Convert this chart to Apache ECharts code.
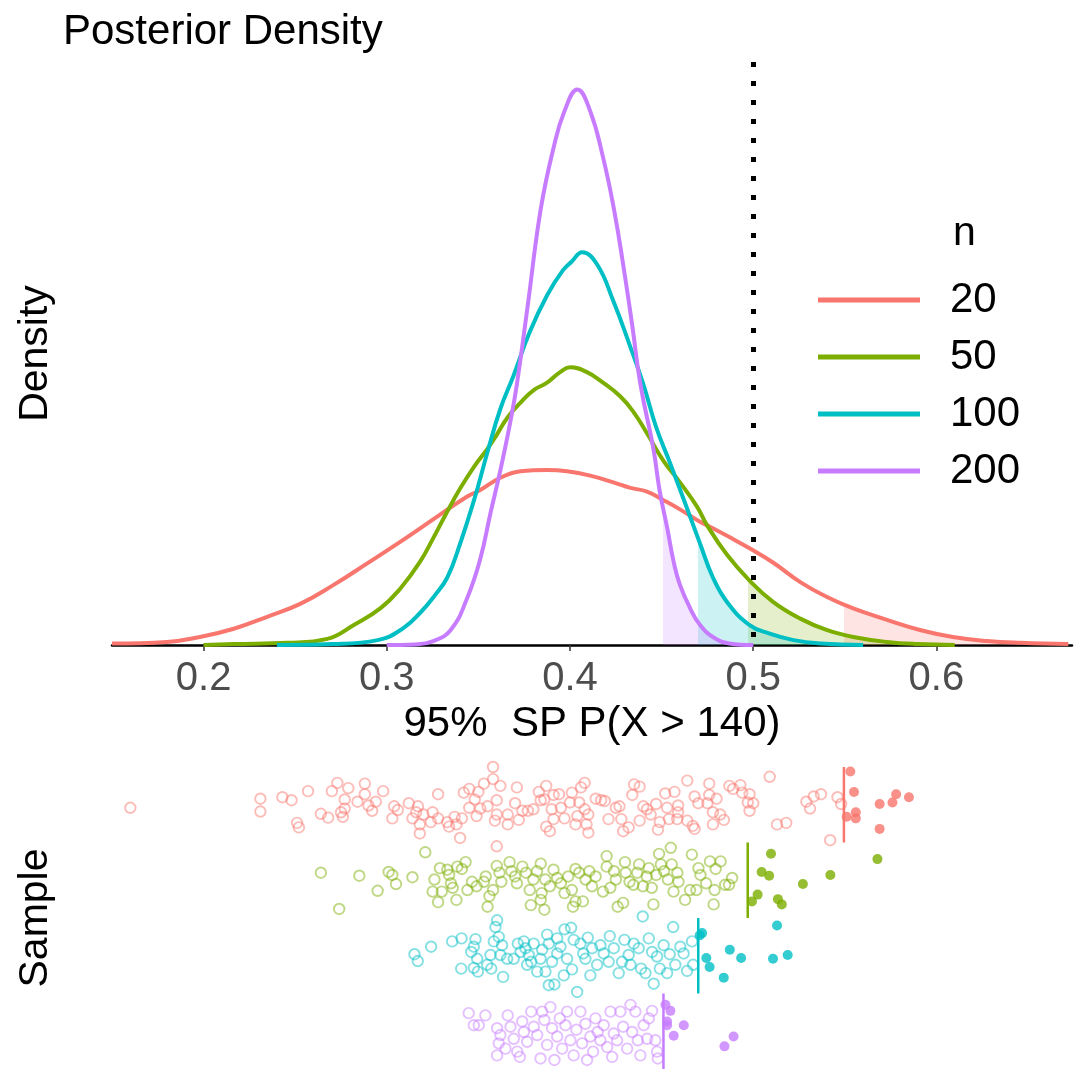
<!DOCTYPE html>
<html><head><meta charset="utf-8">
<script src="https://cdn.jsdelivr.net/npm/echarts@6/dist/echarts.min.js"></script>
<style>html,body{margin:0;padding:0;background:#fff}#c{width:1076px;height:1069px}</style>
</head><body><div id="c"></div><script>
const groups = ['20','50','100','200'];
const colors = ['#F8766D','#7CAE00','#00BFC4','#C77CFF'];
const thresholds = [0.5495, 0.497, 0.470, 0.451];
const tickValues = [0.2,0.3,0.4,0.5,0.6];
const refLine = 0.5;
const rowPos = [4,3,2,1];

const density20 = [[0.150,0.05],[0.180,0.10],[0.198,0.26],[0.2165,0.53],[0.2347,0.92],[0.253,1.35],[0.271,1.96],[0.2893,2.66],[0.3075,3.37],[0.3255,4.10],[0.3439,4.84],[0.351,5.05],[0.362,5.45],[0.373,5.66],[0.3875,5.70],[0.3984,5.66],[0.411,5.52],[0.4237,5.30],[0.433,5.12],[0.442,5.00],[0.451,4.72],[0.460,4.42],[0.4694,4.07],[0.4748,3.90],[0.4875,3.50],[0.498,3.15],[0.511,2.68],[0.5257,2.05],[0.540,1.57],[0.5546,1.19],[0.573,0.82],[0.591,0.49],[0.609,0.26],[0.6276,0.13],[0.646,0.07],[0.672,0.03]];
const density50 = [[0.200,0.0],[0.216,0.03],[0.246,0.07],[0.2675,0.20],[0.282,0.65],[0.2966,1.20],[0.3075,1.85],[0.318,2.70],[0.3255,3.50],[0.333,4.35],[0.340,5.10],[0.3475,5.80],[0.355,6.40],[0.360,6.85],[0.3657,7.40],[0.373,7.90],[0.380,8.30],[0.3875,8.55],[0.3948,8.90],[0.4002,9.05],[0.409,8.90],[0.418,8.55],[0.4275,8.10],[0.4346,7.60],[0.442,6.90],[0.451,6.00],[0.460,5.30],[0.4694,4.50],[0.4748,3.90],[0.4857,2.94],[0.498,2.10],[0.511,1.40],[0.5257,0.86],[0.540,0.49],[0.5546,0.26],[0.573,0.10],[0.590,0.03],[0.610,0.0]];
const density100 = [[0.240,0.0],[0.270,0.03],[0.295,0.16],[0.309,0.55],[0.319,1.10],[0.326,1.60],[0.333,2.20],[0.340,3.30],[0.348,4.80],[0.355,6.30],[0.362,7.70],[0.369,8.75],[0.378,10.20],[0.3875,11.40],[0.396,12.20],[0.401,12.50],[0.4066,12.80],[0.4148,12.40],[0.4237,11.20],[0.433,9.70],[0.440,8.50],[0.447,7.10],[0.4548,5.90],[0.4639,4.45],[0.471,3.30],[0.478,2.20],[0.4857,1.40],[0.498,0.65],[0.509,0.37],[0.522,0.16],[0.537,0.05],[0.560,0.0]];
const density200 = [[0.300,0],[0.315,0.02],[0.325,0.12],[0.335,0.5],[0.344,1.55],[0.351,2.8],[0.3566,4.3],[0.362,5.7],[0.3675,7.3],[0.371,8.5],[0.377,11.1],[0.384,14.2],[0.391,16.2],[0.397,17.4],[0.404,18.1],[0.411,17.4],[0.418,15.9],[0.424,14.2],[0.429,12.4],[0.434,10.4],[0.4384,8.5],[0.4455,6.4],[0.449,5.0],[0.4531,3.8],[0.4566,2.7],[0.460,1.96],[0.4657,1.18],[0.471,0.65],[0.478,0.26],[0.487,0.05],[0.500,0]];

const sample20 = [[0.160,-0.04],[0.231,0.08],[0.231,-0.09],[0.243,0.10],[0.248,0.06],[0.257,0.18],[0.251,-0.24],[0.252,-0.30],[0.264,-0.12],[0.268,-0.17],[0.270,0.18],[0.273,0.29],[0.279,0.22],[0.277,0.07],[0.277,-0.05],[0.275,-0.10],[0.276,-0.16],[0.284,0.04],[0.288,0.28],[0.288,0.14],[0.290,-0.01],[0.292,-0.08],[0.294,0.04],[0.298,0.18],[0.303,-0.18],[0.304,-0.02],[0.306,-0.07],[0.312,0.02],[0.314,-0.18],[0.317,-0.02],[0.316,-0.10],[0.318,-0.26],[0.318,-0.38],[0.320,-0.13],[0.325,-0.10],[0.324,-0.23],[0.328,0.14],[0.328,-0.18],[0.333,-0.23],[0.334,-0.29],[0.337,-0.16],[0.338,-0.26],[0.341,-0.18],[0.340,-0.44],[0.342,0.16],[0.345,0.21],[0.348,0.07],[0.345,-0.04],[0.349,-0.15],[0.350,0.17],[0.351,-0.05],[0.353,0.28],[0.355,-0.02],[0.358,0.50],[0.358,0.34],[0.362,0.25],[0.360,0.06],[0.359,-0.21],[0.360,-0.13],[0.360,-0.55],[0.366,-0.13],[0.366,-0.26],[0.371,0.23],[0.370,0.02],[0.372,-0.20],[0.374,-0.08],[0.377,-0.08],[0.380,-0.06],[0.383,0.17],[0.384,0.06],[0.387,0.25],[0.386,0.07],[0.387,-0.29],[0.389,-0.35],[0.391,0.13],[0.390,-0.06],[0.391,-0.19],[0.394,0.14],[0.395,-0.04],[0.397,-0.18],[0.401,0.16],[0.400,0.03],[0.403,-0.26],[0.404,-0.15],[0.406,0.23],[0.408,0.29],[0.405,0.03],[0.408,-0.06],[0.409,-0.26],[0.410,-0.37],[0.410,-0.13],[0.414,0.08],[0.417,0.06],[0.419,0.05],[0.421,-0.19],[0.425,-0.04],[0.427,-0.02],[0.428,-0.19],[0.429,-0.35],[0.432,-0.30],[0.434,0.13],[0.435,0.27],[0.438,0.24],[0.438,-0.21],[0.440,-0.02],[0.442,-0.06],[0.444,-0.13],[0.447,0.01],[0.448,-0.33],[0.449,-0.23],[0.452,0.15],[0.453,-0.04],[0.454,-0.19],[0.457,0.17],[0.459,-0.01],[0.459,-0.10],[0.4585,-0.19],[0.464,0.32],[0.464,-0.21],[0.467,-0.28],[0.468,-0.32],[0.468,0.11],[0.470,0.02],[0.476,0.28],[0.476,0.13],[0.475,0.02],[0.478,-0.26],[0.478,-0.10],[0.480,0.08],[0.482,-0.13],[0.484,-0.20],[0.487,0.25],[0.489,0.21],[0.493,0.26],[0.494,0.16],[0.498,0.14],[0.497,0.03],[0.500,0.02],[0.498,-0.08],[0.509,0.37],[0.513,-0.26],[0.518,-0.24],[0.529,0.04],[0.531,-0.05],[0.533,0.11],[0.537,0.14],[0.546,0.10],[0.548,0.01],[0.542,-0.47],[0.553,0.44],[0.555,0.17],[0.551,-0.16],[0.556,-0.10],[0.556,-0.18],[0.569,0.01],[0.576,0.03],[0.578,0.14],[0.585,0.10],[0.569,-0.32]];
const sample50 = [[0.264,0.10],[0.274,-0.38],[0.285,0.06],[0.295,-0.14],[0.301,0.11],[0.303,0.07],[0.305,-0.05],[0.314,0.04],[0.321,0.37],[0.325,-0.15],[0.326,0.01],[0.328,-0.29],[0.329,0.16],[0.330,-0.15],[0.333,0.14],[0.334,0.07],[0.335,-0.04],[0.336,-0.10],[0.338,-0.26],[0.3385,0.18],[0.341,0.15],[0.343,0.24],[0.344,-0.13],[0.3465,-0.02],[0.349,-0.08],[0.353,-0.02],[0.354,0.05],[0.355,-0.35],[0.356,-0.21],[0.358,-0.13],[0.360,0.19],[0.3615,0.10],[0.3625,-0.02],[0.367,0.24],[0.368,0.12],[0.370,0.05],[0.371,-0.04],[0.374,0.18],[0.376,0.10],[0.378,-0.13],[0.3786,-0.33],[0.380,0.01],[0.382,0.12],[0.384,0.22],[0.3845,-0.17],[0.384,-0.26],[0.386,-0.39],[0.3865,0.01],[0.389,-0.08],[0.391,0.14],[0.393,0.03],[0.395,-0.04],[0.397,-0.17],[0.399,0.05],[0.401,-0.13],[0.4016,-0.35],[0.403,0.15],[0.403,-0.28],[0.405,0.10],[0.407,-0.28],[0.4085,0.01],[0.4105,0.12],[0.412,-0.08],[0.414,0.05],[0.418,-0.15],[0.420,0.32],[0.420,0.18],[0.422,-0.10],[0.424,0.12],[0.425,0.01],[0.426,-0.35],[0.429,-0.30],[0.430,0.24],[0.4304,0.10],[0.4325,-0.02],[0.4346,-0.06],[0.4367,0.10],[0.4377,0.21],[0.4398,-0.08],[0.4419,0.05],[0.443,0.16],[0.4446,-0.10],[0.4455,-0.32],[0.447,0.07],[0.4486,0.35],[0.4496,0.21],[0.4513,0.12],[0.4534,0.01],[0.455,0.43],[0.4555,0.21],[0.4565,-0.15],[0.4586,0.10],[0.4592,-0.02],[0.4628,-0.26],[0.4655,-0.13],[0.4665,0.34],[0.469,-0.13],[0.4701,0.16],[0.4712,0.07],[0.4743,-0.04],[0.4764,0.25],[0.4784,-0.32],[0.4789,-0.13],[0.4795,0.15],[0.4822,0.25],[0.4847,-0.06],[0.4868,-0.06],[0.4885,0.03],[0.4993,-0.28],[0.5024,-0.19],[0.5046,0.11],[0.5087,0.06],[0.5097,0.35],[0.5135,-0.25],[0.5156,-0.32],[0.5271,-0.05],[0.5421,0.07],[0.5678,0.28]];
const sample100 = [[0.3151,0.02],[0.3169,-0.07],[0.3242,0.12],[0.3357,0.19],[0.3408,0.23],[0.3406,-0.17],[0.3484,0.22],[0.3475,0.12],[0.3461,0.05],[0.3493,-0.04],[0.3475,-0.16],[0.3497,-0.21],[0.3548,-0.12],[0.3566,0.01],[0.3570,-0.17],[0.3584,0.19],[0.3593,0.38],[0.3602,0.47],[0.3611,0.25],[0.3629,0.14],[0.3635,-0.28],[0.3620,0.01],[0.3657,-0.04],[0.3693,-0.04],[0.3715,0.16],[0.3730,0.05],[0.3748,0.19],[0.3757,0.10],[0.3775,0.01],[0.3788,-0.08],[0.3766,-0.12],[0.3802,0.16],[0.3821,-0.21],[0.3839,-0.04],[0.3848,0.08],[0.3866,-0.21],[0.3875,0.28],[0.3884,0.16],[0.3884,-0.39],[0.3902,-0.08],[0.3915,-0.38],[0.3930,0.03],[0.3930,0.23],[0.3948,0.12],[0.3966,-0.26],[0.3970,0.35],[0.3984,-0.04],[0.4006,0.37],[0.4011,-0.18],[0.4020,0.21],[0.4039,-0.48],[0.4057,0.16],[0.4072,0.03],[0.4084,-0.04],[0.4097,0.24],[0.4111,-0.26],[0.4121,0.10],[0.4148,-0.12],[0.4166,0.14],[0.4184,0.03],[0.4217,0.26],[0.4211,-0.08],[0.4239,0.10],[0.4266,-0.23],[0.4284,-0.08],[0.4297,0.21],[0.4320,0.01],[0.4330,-0.12],[0.4348,0.16],[0.4375,0.10],[0.4388,-0.17],[0.4412,-0.23],[0.4430,0.23],[0.4448,0.05],[0.4457,-0.37],[0.4475,-0.01],[0.4490,-0.17],[0.4511,0.14],[0.4530,-0.23],[0.4544,0.02],[0.4563,0.38],[0.4575,-0.12],[0.4602,0.12],[0.4620,0.03],[0.4639,-0.20],[0.4672,-0.12],[0.4666,0.19],[0.4397,0.52],[0.4708,0.27],[0.4721,0.30],[0.4744,-0.03],[0.4762,-0.15],[0.4839,-0.29],[0.4872,0.08],[0.4934,-0.03],[0.5108,-0.04],[0.5130,0.40],[0.5188,0.01]];
const sample200 = [[0.3447,0.24],[0.3475,0.08],[0.3502,0.08],[0.3538,0.21],[0.3602,0.04],[0.3611,-0.16],[0.3602,-0.32],[0.3620,-0.05],[0.3648,-0.23],[0.3660,0.21],[0.3675,0.06],[0.3693,-0.10],[0.3712,-0.27],[0.3726,-0.34],[0.3739,0.13],[0.3748,-0.01],[0.3766,-0.14],[0.3788,0.26],[0.3802,0.06],[0.3821,-0.05],[0.3839,-0.36],[0.3848,0.26],[0.3860,0.15],[0.3875,-0.18],[0.3893,0.32],[0.3902,0.04],[0.3915,-0.38],[0.3930,-0.07],[0.3944,0.17],[0.3957,-0.23],[0.3975,0.08],[0.3984,0.26],[0.4002,-0.12],[0.4020,-0.32],[0.4035,0.02],[0.4057,0.26],[0.4066,-0.16],[0.4084,0.10],[0.4093,-0.38],[0.4111,-0.07],[0.4126,-0.27],[0.4139,0.17],[0.4151,-0.01],[0.4166,-0.12],[0.4184,0.08],[0.4203,-0.21],[0.4221,0.26],[0.4230,-0.34],[0.4239,-0.03],[0.4257,-0.12],[0.4275,0.26],[0.4290,0.06],[0.4312,-0.23],[0.4330,0.35],[0.4339,-0.01],[0.4357,0.26],[0.4370,-0.12],[0.4384,-0.32],[0.4402,0.08],[0.4421,-0.10],[0.4430,0.17],[0.4448,0.27],[0.4466,-0.12],[0.4475,-0.27],[0.4479,-0.36],[0.4521,0.35],[0.4548,0.27],[0.4530,0.13],[0.4530,0.08],[0.4621,0.08],[0.4566,-0.06],[0.4843,-0.20],[0.4893,-0.07]];

const densities = [density20, density50, density100, density200];
const samples = [sample20, sample50, sample100, sample200];

const FONT = "'Liberation Sans', Arial, sans-serif";
function rgba(hex, a){
  const n = parseInt(hex.slice(1),16);
  return 'rgba('+((n>>16)&255)+','+((n>>8)&255)+','+(n&255)+','+a+')';
}
const SMOOTH = 0.45;
const series = [];
groups.forEach((g,i)=>{
  series.push({name:'shade'+g, type:'line', xAxisIndex:0, yAxisIndex:0, data:densities[i],
    smooth:SMOOTH, showSymbol:false, silent:true, z:1,
    lineStyle:{width:0, opacity:0}, areaStyle:{opacity:1}});
});
groups.forEach((g,i)=>{
  series.push({name:g, type:'line', xAxisIndex:0, yAxisIndex:0, data:densities[i],
    smooth:SMOOTH, showSymbol:false, z:3,
    lineStyle:{width:4, color:colors[i]}, itemStyle:{color:colors[i]}});
});
series.push({name:'ref', type:'line', xAxisIndex:0, yAxisIndex:0, data:[], z:5,
  markLine:{silent:true, symbol:['none','none'], label:{show:false},
    lineStyle:{color:'#000', type:[5,14], width:5, cap:'butt'},
    data:[[{coord:[refLine,19]},{coord:[refLine,0]}]]}});
groups.forEach((g,i)=>{
  const c = colors[i];
  series.push({name:'sample'+g, type:'scatter', xAxisIndex:1, yAxisIndex:1, clip:false, z:2,
    data: samples[i].map(p => p[0] > thresholds[i]
      ? {value:[p[0], rowPos[i]+p[1]], symbolSize:10, itemStyle:{color:c}}
      : {value:[p[0], rowPos[i]+p[1]], symbolSize:10.5, itemStyle:{color:'rgba(255,255,255,0)', borderColor:rgba(c,0.6), borderWidth:1.9}})
  });
  series.push({name:'cut'+g, type:'line', xAxisIndex:1, yAxisIndex:1, silent:true, z:3,
    data:[[thresholds[i], rowPos[i]-0.5],[thresholds[i], rowPos[i]+0.5]],
    showSymbol:false, lineStyle:{color:c, width:2.5}});
});

const option = {
  animation:false,
  backgroundColor:'#fff',
  textStyle:{fontFamily:FONT},
  title:[
    {text:'Posterior Density', left:58, top:6, textStyle:{fontSize:42, fontWeight:'normal', color:'#000', fontFamily:FONT}},
    {text:'n', left:948, top:208, textStyle:{fontSize:41, fontWeight:'normal', color:'#000', fontFamily:FONT}}
  ],
  legend:{
    data:groups, orient:'vertical', left:818, top:279, padding:0,
    icon:'rect', itemWidth:102, itemHeight:5, itemGap:15,
    textStyle:{fontSize:42, lineHeight:42, color:'#000', fontFamily:FONT, padding:[0,0,0,25]},
    selectedMode:false
  },
  grid:[
    {left:112, right:4, top:62, height:583},
    {left:112, right:4, top:767, height:302}
  ],
  visualMap: groups.map((g,i)=>({type:'piecewise', show:false, dimension:0, seriesIndex:i,
    pieces:[{gte:thresholds[i], lte:1, color:rgba(colors[i],0.2)}],
    outOfRange:{color:'rgba(255,255,255,0)'}})),
  xAxis:[
    {gridIndex:0, type:'value', min:0.15, max:0.674,
     name:'95%  SP P(X > 140)', nameLocation:'middle', nameGap:54,
     nameTextStyle:{fontSize:42, color:'#000', fontFamily:FONT},
     axisLine:{show:true, onZero:false, lineStyle:{color:'#000', width:2.5}},
     axisTick:{show:true, length:6, lineStyle:{color:'#333', width:1.5}, customValues:tickValues},
     axisLabel:{show:true, fontSize:40, color:'#4D4D4D', margin:14, fontFamily:FONT, customValues:tickValues,
       formatter:v=>v.toFixed(1)},
     splitLine:{show:false}},
    {gridIndex:1, type:'value', min:0.15, max:0.674, show:false}
  ],
  yAxis:[
    {gridIndex:0, type:'value', min:0, max:19, name:'Density', nameLocation:'middle', nameRotate:90, nameGap:56,
     nameTextStyle:{fontSize:41, color:'#000', fontFamily:FONT},
     axisLine:{show:false}, axisTick:{show:false}, axisLabel:{show:false}, splitLine:{show:false}},
    {gridIndex:1, type:'value', min:0.5, max:4.5, name:'Sample', nameLocation:'middle', nameRotate:90, nameGap:56,
     nameTextStyle:{fontSize:41, color:'#000', fontFamily:FONT},
     axisLine:{show:false}, axisTick:{show:false}, axisLabel:{show:false}, splitLine:{show:false}}
  ],
  series
};
const chart = echarts.init(document.getElementById('c'), null, {renderer:'canvas'});
chart.setOption(option);
</script></body></html>
